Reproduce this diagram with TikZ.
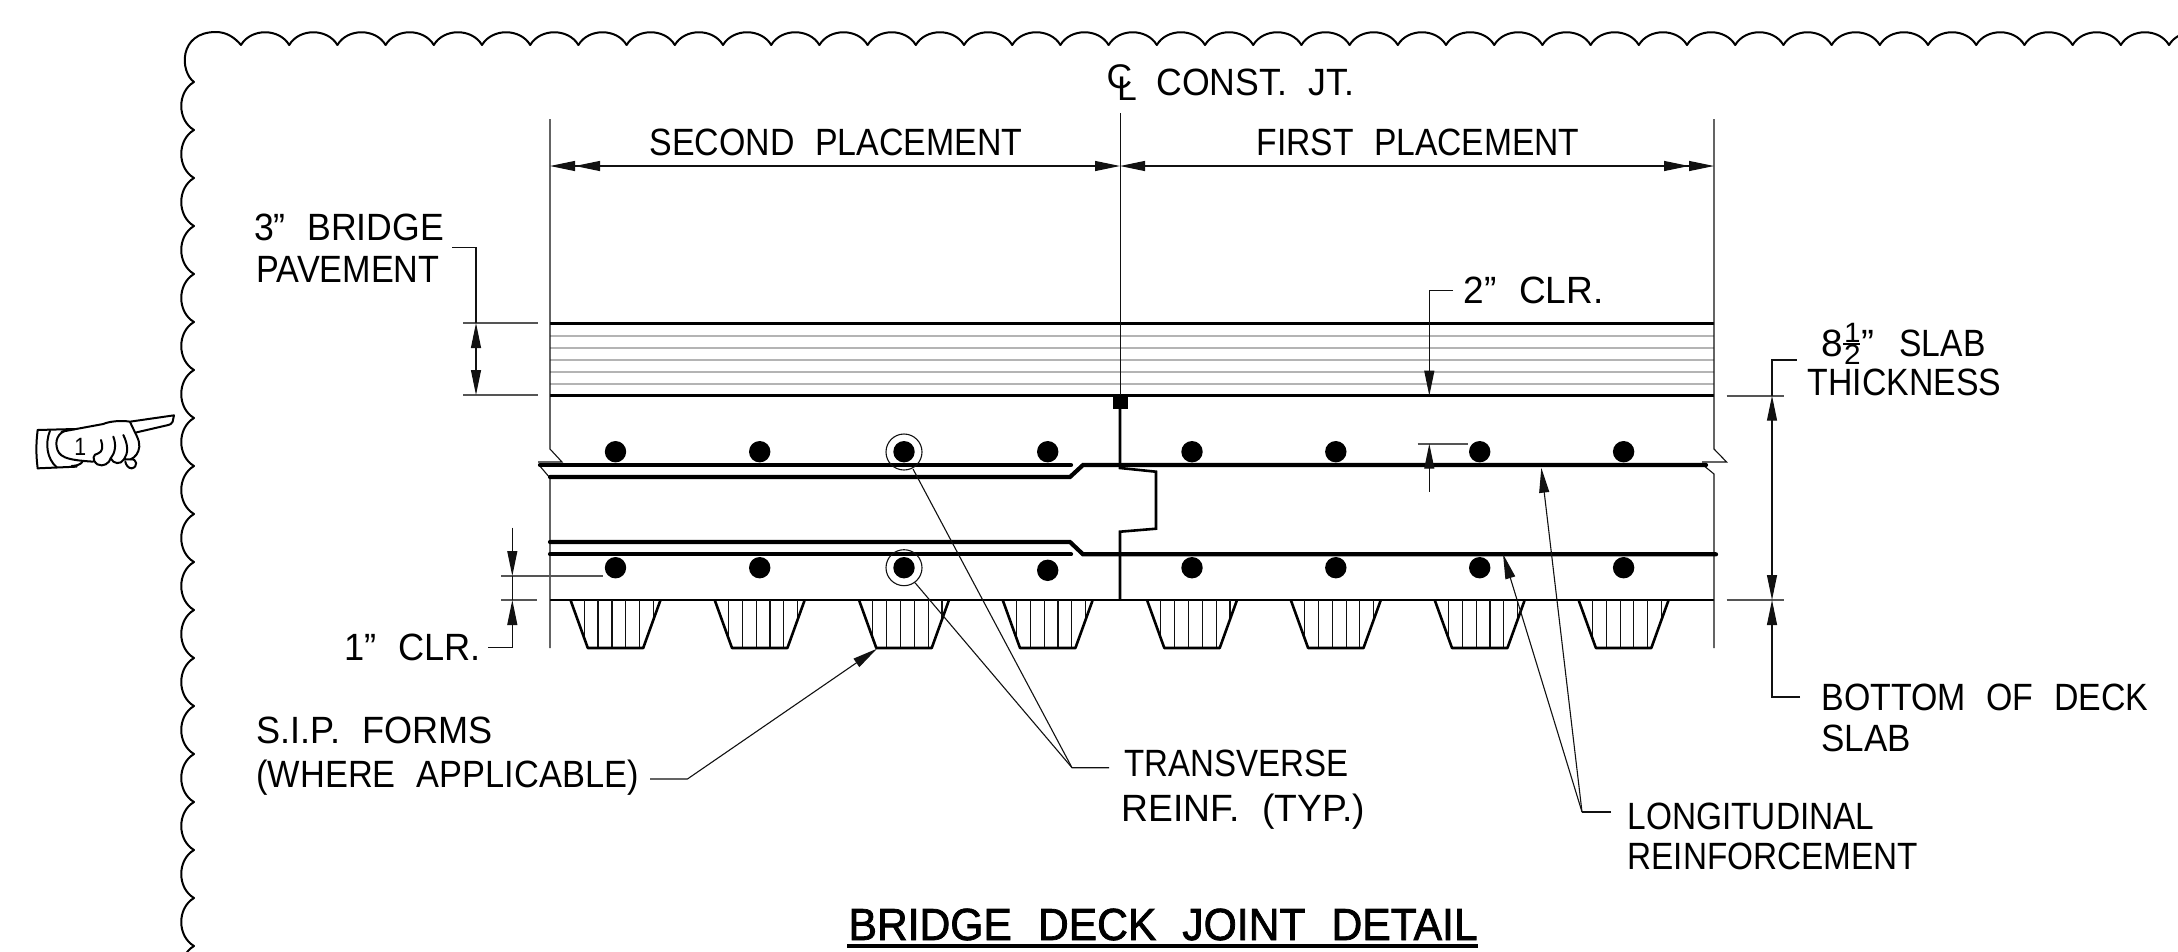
\documentclass[tikz,border=0pt]{standalone}
\usepackage{fontspec}
\usepackage{graphicx}
\usetikzlibrary{arrows.meta}
\setmainfont[FakeStretch=0.85,WordSpace=2.2]{Liberation Sans}
\newfontfamily\titlefont[FakeStretch=0.85,FakeBold=1.6,WordSpace=2.2]{Liberation Sans}
\newcommand\T[2]{\resizebox{\dimexpr#1pt+3pt\relax}{\height}{#2}}
\definecolor{inkc}{HTML}{111111}
\definecolor{extc}{HTML}{555555}
\definecolor{layerc}{HTML}{B4B4B4}
\tikzset{
 lbl/.style={anchor=base west,inner sep=0pt,outer sep=0pt,xshift=-0.5pt,font=\fontsize{38}{38}\selectfont,text=black},
 thin line/.style={line width=1.1pt,draw=inkc},
 extline/.style={line width=1.6pt,draw=extc},
 heavy/.style={line width=2.6pt,draw=black},
 rebar/.style={line width=4.2pt,draw=black,line cap=round},
 layer/.style={line width=2.2pt,draw=layerc},
 scallop/.style={line width=2pt,draw=black,line cap=round},
 handline/.style={line width=2pt,draw=black,line cap=round,line join=round},
 head/.style={-{Triangle[length=25pt,width=10pt,sep=0pt]}},
 dhead/.style={-{Triangle[length=25pt,width=10pt,sep=0pt]Triangle[length=25pt,width=10pt,sep=0pt]}},
}
\begin{document}
\begin{tikzpicture}[x=1pt,y=-1pt]
\useasboundingbox (0,0) rectangle (2178,951);
\clip (0,0) rectangle (2178,951);
% revision cloud
\foreach \i in {0,...,40}{
  \draw[scallop] ({241+48.2*\i},45) .. controls ({251+48.2*\i},28) and ({279.2+48.2*\i},28) .. ({289.2+48.2*\i},45);
}
\foreach \i in {0,...,18}{
  \draw[scallop] (194,{82+48*\i}) .. controls (177,{92+48*\i}) and (177,{120+48*\i}) .. (194,{130+48*\i});
}
\draw[scallop] (194,82) .. controls (180,72) and (178,32) .. (216,32) .. controls (227,32) and (235,38) .. (241,45);
\begin{scope}[yshift=-1pt]
% pavement layers
\foreach \yy in {334.7,347,358.7,371,382.7}{ \draw[layer] (550,\yy) -- (1714,\yy); }
\draw[heavy] (550,322.5) -- (1714,322.5);
\draw[heavy] (550,394.7) -- (1714,394.7);
\draw[heavy] (550,599) -- (1714,599);
% extension lines and break marks
\draw[thin line] (550,118) -- (550,448) -- (562,461) -- (538,461);
\draw[thin line] (539,464) -- (550,477) -- (550,647);
\draw[thin line] (1714,118) -- (1714,448) -- (1726.6,461) -- (1702,461);
\draw[thin line] (1703,464) -- (1714,473) -- (1714,647);
\draw[thin line] (1120.5,112) -- (1120.5,394);
% joint
\fill[black] (1113,394) rectangle (1127.6,407.7);
\draw[heavy,line join=miter] (1120,407) -- (1120,467) -- (1156,470.7) -- (1156,527.7) -- (1120,530.7) -- (1120,599);
% reinforcement
\draw[rebar] (540,464) -- (1071,464);
\draw[rebar] (550,476) -- (1070,476) -- (1083,464) -- (1706,464);
\draw[rebar] (550,541) -- (1070,541) -- (1083,553.3) -- (1716,553.3);
\draw[rebar] (550,553.3) -- (1071,553.3);
\foreach \cx/\n in {615.5/1,759.7/2,904/3,1047.7/4,1192/5,1335.8/6,1479.7/7,1623.6/8}{
  \fill[black] (\cx,450.7) circle[radius=10.7];
  \begin{scope}
    \clip (\cx-45,599) -- (\cx+45,599) -- (\cx+27.7,647) -- (\cx-27.7,647) -- cycle;
    \foreach \dx in {-31.2,-17.5,-3.5,10.3,24.1,38}{ \draw[thin line] (\cx+\dx,599) -- (\cx+\dx,647); }
  \end{scope}
  \draw[heavy,line join=round] (\cx-45,599) -- (\cx-27.7,647) -- (\cx+27.7,647) -- (\cx+45,599);
}
\foreach \cx in {615.5,759.7,904,1192,1335.8,1479.7,1623.6}{ \fill[black] (\cx,566.7) circle[radius=10.7]; }
\fill[black] (1047.7,569.3) circle[radius=10.7];
\draw[thin line] (904,451) circle[radius=18];
\draw[thin line] (904,566.7) circle[radius=18];
% top dimension
\draw[thin line,dhead] (1096,165) -- (550,165);
\draw[thin line,head] (820,165) -- (1120,165);
\draw[thin line,head] (1420,165) -- (1120,165);
\draw[thin line,dhead] (1145,165) -- (1714,165);
% pavement dimension
\coordinate (pavtip1) at (476,322); \coordinate (pavtip2) at (476,394);
\draw[extline] (463,321.7) -- (538,321.7);
\draw[extline] (463,394) -- (538,394);
\draw[thin line] (452,246.7) -- (476,246.7) -- (pavtip1);
\draw[thin line,head] (476,358) -- (pavtip1);
\draw[thin line,head] (476,358) -- (pavtip2);
% 2 in clear
\draw[thin line,head] (1453,289.7) -- (1429.3,289.7) -- (1429.3,394.7);
\draw[extline] (1417.6,442.7) -- (1468,442.7);
\draw[thin line,head] (1429.3,490.7) -- (1429.3,442.7);
% slab thickness
\draw[extline] (1726.6,394.7) -- (1784,394.7);
\draw[extline] (1726.6,599) -- (1784,599);
\draw[thin line] (1796.6,359) -- (1772,359) -- (1772,394.7);
\draw[thin line,head] (1772,480) -- (1772,394.7);
\draw[thin line,head] (1772,480) -- (1772,599);
\draw[thin line,head] (1800,696) -- (1772,696) -- (1772,599);
% 1 in clear
\draw[extline] (501,575) -- (603,575);
\draw[extline] (501,599) -- (537,599);
\draw[thin line,head] (512.3,526.7) -- (512.3,575);
\draw[thin line] (512.3,575) -- (512.3,599);
\draw[thin line,head] (488,646.7) -- (512.3,646.7) -- (512.3,599);
% leaders
\coordinate (elbT) at (1072,766.7);
\draw[thin line] (1109,766.7) -- (elbT) -- (913,468);
\draw[thin line] (elbT) -- (915,581.7);
\draw[thin line,head] (650,778) -- (687.4,778) -- (877,647.7);
\coordinate (elbL) at (1582,811);
\draw[thin line] (1611,811) -- (elbL);
\draw[thin line,head] (elbL) -- (1541.3,466.7);
\draw[thin line,head] (elbL) -- (1503,553);
\end{scope}
% labels
\node[lbl] (cl) at (1107,88) {\scalebox{1.1}[0.9]{C}\kern-15pt\raisebox{-12pt}{\scalebox{1.1}[0.9]{L}}};
\node[lbl] (constjt) at (1157,95) {\T{195}{CONST. JT.}};
\node[lbl] (second) at (650,155) {\T{370}{SECOND PLACEMENT}};
\node[lbl] (first) at (1257,155) {\T{320}{FIRST PLACEMENT}};
\node[lbl] (b3a) at (254.5,240) {\T{187}{3” BRIDGE}};
\node[lbl] (b3b) at (257,282.7) {\T{180}{PAVEMENT}};
\node[lbl] (clr2) at (1464,303) {\T{137}{2” CLR.}};
\node[lbl] (eight) at (1822,356) {\scalebox{1.2}[1]{8}\rlap{\raisebox{14pt}{\fontsize{28}{28}\selectfont\kern1pt\scalebox{1.25}[1]{1}}}\rlap{\raisebox{-8pt}{\fontsize{28}{28}\selectfont\kern1pt\scalebox{1.25}[1]{2}}}\rlap{\raisebox{11.5pt}{\rule{17pt}{1.6pt}}}\kern18pt\scalebox{1.2}[1]{”}};
\node[lbl] (slab) at (1900,356) {\T{83}{SLAB}};
\node[lbl] (thick) at (1808.4,395.7) {\T{190.4}{THICKNESS}};
\node[lbl] (sip) at (257,743.7) {\T{233}{S.I.P. FORMS}};
\node[lbl] (where) at (257,787.7) {\T{379}{(WHERE APPLICABLE)}};
\node[lbl] (clr1) at (344.7,660) {\T{133.8}{1” CLR.}};
\node[lbl] (trans) at (1125,776) {\T{221}{TRANSVERSE}};
\node[lbl] (reinf) at (1122,821) {\T{240.6}{REINF. (TYP.)}};
\node[lbl] (longi) at (1628,829) {\T{244}{LONGITUDINAL}};
\node[lbl] (reinfm) at (1628,869.5) {\T{287.5}{REINFORCEMENT}};
\node[lbl] (bot) at (1822,710) {\T{324}{BOTTOM OF DECK}};
\node[lbl] (slabb) at (1822,751.5) {\T{86.5}{SLAB}};
\node[lbl,font=\titlefont\fontsize{45}{45}\selectfont] (title) at (849,940) {\T{626}{BRIDGE DECK JOINT DETAIL}};
\draw[line width=3.6pt] (847,946) -- (1478,946);
% hand
\begin{scope}[yshift=-380pt,x=0.3333pt,y=-0.3333pt]
\draw[handline] (185,155) -- (310,132) .. controls (325,125) and (360,120) .. (390,125) -- (522,106) -- (518,125) .. controls (515,132) and (510,134) .. (505,135) -- (410,157);
\draw[handline] (390,125) .. controls (405,160) and (420,180) .. (418,200) .. controls (416,220) and (405,232) .. (392,238);
\draw[handline] (113,150) -- (225,147);
\draw[handline] (113,265) -- (230,260);
\draw[handline] (113,150) .. controls (108,190) and (108,225) .. (113,265);
\draw[handline] (150,152) .. controls (135,190) and (140,235) .. (170,262);
\draw[handline] (215,148) .. controls (180,150) and (165,175) .. (170,200) .. controls (175,230) and (195,240) .. (280,245);
\draw[handline] (215,258) .. controls (230,258) and (245,252) .. (248,244);
\draw[handline] (303,180) .. controls (310,200) and (308,215) .. (295,220) .. controls (278,222) and (275,240) .. (292,253) .. controls (310,262) and (328,250) .. (332,235);
\draw[handline] (340,170) .. controls (350,195) and (345,220) .. (332,235) .. controls (340,252) and (362,255) .. (372,238);
\draw[handline] (370,165) .. controls (385,195) and (385,220) .. (372,238) -- (392,238) .. controls (412,235) and (415,262) .. (395,265) .. controls (385,265) and (378,255) .. (376,245);
\node[lbl,font=\fontsize{25}{25}\selectfont] (handn) at (225,225) {1};
\end{scope}
\end{tikzpicture}
\end{document}
